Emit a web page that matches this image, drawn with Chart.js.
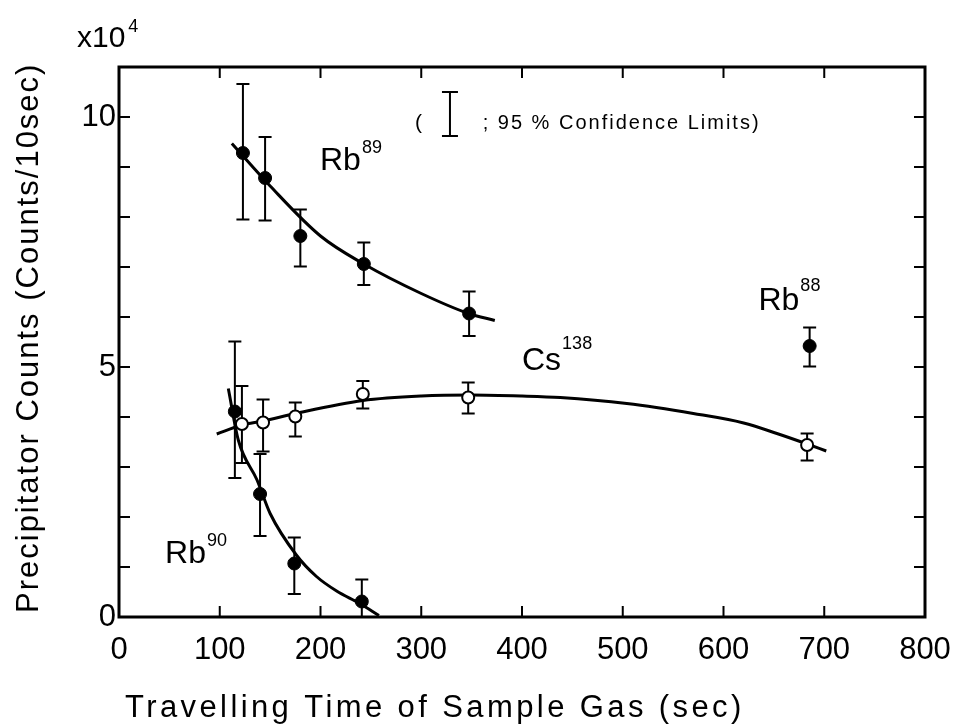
<!DOCTYPE html>
<html>
<head>
<meta charset="utf-8">
<script src="https://cdn.jsdelivr.net/npm/chart.js@4/dist/chart.umd.min.js"></script>
<style>
  html, body { margin: 0; padding: 0; background: #fff; }
  #wrap { width: 955px; height: 724px; position: relative; }
</style>
</head>
<body>
<div id="wrap"><canvas id="chart"></canvas></div>
<script>
// measured points (x in sec, y in 10^4 counts / 10 sec)
const rb89X = [123, 145, 180, 243, 347.5];
const rb89Y = [9.28, 8.78, 7.62, 7.06, 6.07];
const rb89Lo = [7.95, 7.93, 7.01, 6.64, 5.62];
const rb89Hi = [10.66, 9.6, 8.15, 7.49, 6.51];

const rb90X = [115, 140, 174, 241];
const rb90Y = [4.11, 2.46, 1.07, 0.31];
const rb90Lo = [2.78, 1.62, 0.46, 0.0];
const rb90Hi = [5.51, 3.26, 1.59, 0.75];

const rb88X = [685.5];
const rb88Y = [5.42];
const rb88Lo = [5.01];
const rb88Hi = [5.79];

const cs138X = [122, 143, 175, 242, 346.6, 683];
const cs138Y = [3.86, 3.89, 4.01, 4.46, 4.39, 3.44];
const cs138Lo = [3.08, 3.31, 3.61, 4.17, 4.07, 3.13];
const cs138Hi = [4.62, 4.35, 4.29, 4.72, 4.69, 3.67];

// hand-drawn fit curves
const rb89CurveX = [112, 150, 200, 243, 300, 347, 373];
const rb89CurveY = [9.47, 8.62, 7.62, 7.06, 6.47, 6.07, 5.93];
const rb90CurveX = [108.5, 118.4, 137, 150, 176, 196, 216, 239, 258];
const rb90CurveY = [4.57, 3.54, 2.74, 2.07, 1.24, 0.81, 0.52, 0.27, 0.03];
const cs138CurveX = [97, 122, 143, 175, 242, 300, 350, 400, 438, 504, 570, 620, 653, 683, 702];
const cs138CurveY = [3.66, 3.84, 3.92, 4.07, 4.33, 4.42, 4.44, 4.42, 4.39, 4.27, 4.07, 3.88, 3.67, 3.46, 3.32];

const xTicks = [0, 100, 200, 300, 400, 500, 600, 700, 800];
const yTicks = [0, 1, 2, 3, 4, 5, 6, 7, 8, 9, 10, 11];
const yLabels = [0, 5, 10];

const xTitle = "Travelling Time of Sample Gas (sec)";
const yTitle = "Precipitator Counts (Counts/10sec)";

const FONT = "'Liberation Sans', Arial, sans-serif";

function toPoints(xs, ys)
{
  return xs.map((x, i) => ({x: x, y: ys[i]}));
}

const errorSeries = [
  {x: rb89X, lo: rb89Lo, hi: rb89Hi},
  {x: rb90X, lo: rb90Lo, hi: rb90Hi},
  {x: rb88X, lo: rb88Lo, hi: rb88Hi},
  {x: cs138X, lo: cs138Lo, hi: cs138Hi},
];

// text labels placed in data coordinates
const labels = [
  {x: 199.5, y: 8.94, text: "Rb", sup: "89", rise: 17},
  {x: 45.7, y: 1.08, text: "Rb", sup: "90", rise: 17},
  {x: 634.7, y: 6.14, text: "Rb", sup: "88", rise: 19},
  {x: 400, y: 4.94, text: "Cs", sup: "138", rise: 21},
];

const errorBars = {
  id: "errorBars",
  beforeDatasetsDraw(chart)
  {
    const ctx = chart.ctx;
    const xs = chart.scales.x;
    const ys = chart.scales.y;
    ctx.save();
    ctx.strokeStyle = "#000";
    ctx.lineWidth = 2;
    errorSeries.forEach(s =>
    {
      s.x.forEach((xv, i) =>
      {
        const px = xs.getPixelForValue(xv);
        const top = ys.getPixelForValue(s.hi[i]);
        const bot = ys.getPixelForValue(s.lo[i]);
        ctx.beginPath();
        ctx.moveTo(px, top);
        ctx.lineTo(px, bot);
        ctx.moveTo(px - 6.5, top);
        ctx.lineTo(px + 6.5, top);
        if (s.lo[i] > 0)
        {
          ctx.moveTo(px - 6.5, bot);
          ctx.lineTo(px + 6.5, bot);
        }
        ctx.stroke();
      });
    });
    ctx.restore();
  }
};

const frame = {
  id: "frame",
  afterDraw(chart)
  {
    const ctx = chart.ctx;
    const a = chart.chartArea;
    const xs = chart.scales.x;
    const ys = chart.scales.y;
    ctx.save();
    ctx.strokeStyle = "#000";
    ctx.lineWidth = 3;
    ctx.strokeRect(a.left, a.top, a.right - a.left, a.bottom - a.top);

    // inward tick marks on all four sides
    ctx.lineWidth = 2;
    ctx.beginPath();
    xTicks.forEach(v =>
    {
      const px = xs.getPixelForValue(v);
      ctx.moveTo(px, a.bottom);
      ctx.lineTo(px, a.bottom - 11);
      ctx.moveTo(px, a.top);
      ctx.lineTo(px, a.top + 11);
    });
    yTicks.forEach(v =>
    {
      const py = ys.getPixelForValue(v);
      ctx.moveTo(a.left, py);
      ctx.lineTo(a.left + 11, py);
      ctx.moveTo(a.right, py);
      ctx.lineTo(a.right - 11, py);
    });
    ctx.stroke();

    ctx.fillStyle = "#000";
    ctx.textBaseline = "alphabetic";
    ctx.textAlign = "left";

    // isotope labels
    labels.forEach(l =>
    {
      const px = xs.getPixelForValue(l.x);
      const py = ys.getPixelForValue(l.y);
      ctx.font = "32px " + FONT;
      ctx.fillText(l.text, px, py);
      const w = ctx.measureText(l.text).width;
      ctx.font = "18px " + FONT;
      ctx.fillText(l.sup, px + w + 1, py - l.rise);
    });

    // confidence limit key
    const kx = xs.getPixelForValue(293.8);
    const ky = ys.getPixelForValue(9.76);
    ctx.font = "21px " + FONT;
    ctx.fillText("(", kx, ky);
    const bx = xs.getPixelForValue(328.5);
    const bt = ys.getPixelForValue(10.5);
    const bb = ys.getPixelForValue(9.62);
    ctx.beginPath();
    ctx.moveTo(bx, bt);
    ctx.lineTo(bx, bb);
    ctx.moveTo(bx - 8, bt);
    ctx.lineTo(bx + 8, bt);
    ctx.moveTo(bx - 8, bb);
    ctx.lineTo(bx + 8, bb);
    ctx.stroke();
    ctx.font = "20px " + FONT;
    ctx.letterSpacing = "2px";
    ctx.fillText("; 95 % Confidence Limits)", xs.getPixelForValue(361), ky);

    // multiplier
    ctx.letterSpacing = "0px";
    const mx = xs.getPixelForValue(-41.7);
    const my = ys.getPixelForValue(11.4);
    ctx.font = "30px " + FONT;
    ctx.fillText("x10", mx, my);
    const mw = ctx.measureText("x10").width;
    ctx.font = "18px " + FONT;
    ctx.fillText("4", mx + mw + 3, my - 15);

    // axis titles
    ctx.font = "31px " + FONT;
    ctx.letterSpacing = "3.4px";
    ctx.fillText(xTitle, a.left + 6, 717);
    ctx.save();
    ctx.translate(38, 613);
    ctx.rotate(-Math.PI / 2);
    ctx.letterSpacing = "2px";
    ctx.fillText(yTitle, 0, 0);
    ctx.restore();
    ctx.restore();
  }
};

const curveStyle = {
  type: "line",
  showLine: true,
  borderColor: "#000",
  borderWidth: 3,
  pointRadius: 0,
  fill: false,
  cubicInterpolationMode: "monotone",
  order: 2,
};

const filledStyle = {
  type: "scatter",
  pointRadius: 6.5,
  pointBackgroundColor: "#000",
  pointBorderColor: "#000",
  pointBorderWidth: 1,
  showLine: false,
  order: 1,
};

const openStyle = {
  type: "scatter",
  pointRadius: 6,
  pointBackgroundColor: "#fff",
  pointBorderColor: "#000",
  pointBorderWidth: 2,
  showLine: false,
  order: 1,
};

const config = {
  type: "scatter",
  data: {
    datasets: [
      {...curveStyle, label: "Rb89 fit", data: toPoints(rb89CurveX, rb89CurveY)},
      {...curveStyle, label: "Rb90 fit", data: toPoints(rb90CurveX, rb90CurveY)},
      {...curveStyle, label: "Cs138 fit", data: toPoints(cs138CurveX, cs138CurveY)},
      {...filledStyle, label: "Rb89", data: toPoints(rb89X, rb89Y)},
      {...filledStyle, label: "Rb90", data: toPoints(rb90X, rb90Y)},
      {...filledStyle, label: "Rb88", data: toPoints(rb88X, rb88Y)},
      {...openStyle, label: "Cs138", data: toPoints(cs138X, cs138Y)},
    ],
  },
  options: {
    responsive: true,
    maintainAspectRatio: false,
    animation: false,
    devicePixelRatio: 1,
    layout: {
      padding: {left: 0, right: 30, top: 67, bottom: 0},
    },
    plugins: {
      legend: {display: false},
      tooltip: {enabled: false},
    },
    scales: {
      x: {
        type: "linear",
        min: 0,
        max: 800,
        grid: {display: false, drawTicks: false},
        border: {display: false},
        ticks: {
          stepSize: 100,
          padding: 15,
          color: "#000",
          maxRotation: 0,
          font: {family: FONT, size: 31},
        },
        afterFit: scale =>
        {
          scale.height = 107;
          scale.paddingLeft = 0;
          scale.paddingRight = 0;
        },
      },
      y: {
        type: "linear",
        min: 0,
        max: 11,
        grid: {display: false, drawTicks: false},
        border: {display: false},
        ticks: {
          stepSize: 1,
          padding: 3,
          color: "#000",
          font: {family: FONT, size: 31},
          callback: v => yLabels.includes(v) ? String(v) : "",
        },
        afterFit: scale =>
        {
          scale.width = 119;
          scale.paddingTop = 0;
          scale.paddingBottom = 0;
        },
      },
    },
  },
  plugins: [errorBars, frame],
};

new Chart(document.getElementById("chart"), config);
</script>
</body>
</html>
